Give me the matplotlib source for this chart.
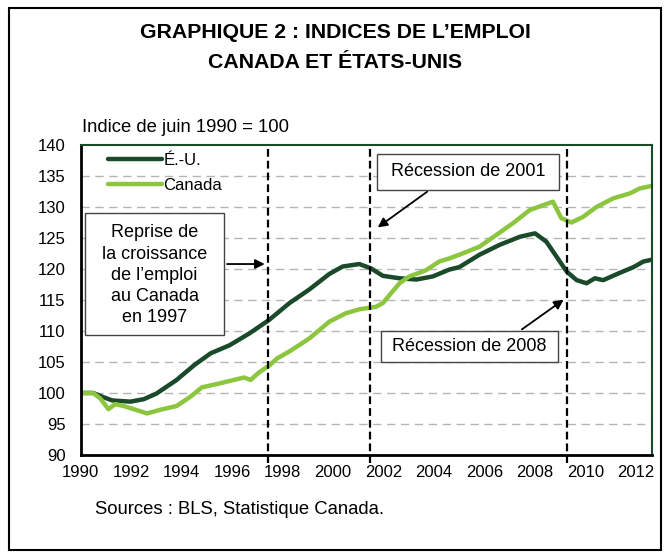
import matplotlib
matplotlib.use("Agg")
import matplotlib.pyplot as plt
from matplotlib.patches import Rectangle

plt.rcParams['font.family'] = ['Liberation Sans', 'DejaVu Sans']

# indices (juin 1990 = 100)
us_years = [1990.0, 1990.5, 1990.85, 1991.25, 1991.97, 1992.5, 1993.0, 1993.8,
            1994.5, 1995.15, 1995.9, 1996.68, 1997.47, 1998.27, 1999.06, 1999.85,
            2000.38, 2001.04, 2001.5, 2001.97, 2002.63, 2003.3, 2003.95, 2004.6,
            2005.0, 2005.8, 2006.6, 2007.4, 2008.0, 2008.45, 2008.85, 2009.25,
            2009.65, 2010.04, 2010.37, 2010.7, 2011.37, 2011.9, 2012.29, 2012.62]
us_values = [100.0, 100.0, 99.4, 98.8, 98.6, 99.0, 99.9, 102.1,
             104.5, 106.4, 107.7, 109.6, 111.8, 114.5, 116.7, 119.2,
             120.4, 120.8, 120.1, 118.9, 118.5, 118.3, 118.8, 119.9,
             120.3, 122.3, 123.9, 125.2, 125.75, 124.4, 122.0, 119.6,
             118.2, 117.7, 118.5, 118.2, 119.4, 120.3, 121.2, 121.5]

ca_years = [1990.0, 1990.5, 1990.78, 1991.1, 1991.37, 1991.7, 1992.17, 1992.63,
            1993.16, 1993.8, 1994.35, 1994.8, 1995.4, 1996.07, 1996.47, 1996.73,
            1997.06, 1997.46, 1997.79, 1998.27, 1999.06, 1999.85, 2000.5, 2001.04,
            2001.7, 2001.97, 2002.63, 2003.02, 2003.68, 2004.2, 2004.6, 2005.0,
            2005.8, 2006.47, 2007.13, 2007.79, 2008.25, 2008.71, 2009.04, 2009.44,
            2009.9, 2010.43, 2011.1, 2011.76, 2012.15, 2012.62]
ca_values = [100.0, 100.0, 99.1, 97.4, 98.2, 97.9, 97.3, 96.7,
             97.3, 97.9, 99.4, 100.9, 101.45, 102.1, 102.5, 102.1,
             103.3, 104.4, 105.6, 106.7, 108.8, 111.5, 112.85, 113.5,
             113.9, 114.5, 117.7, 118.8, 119.8, 121.2, 121.7, 122.3,
             123.6, 125.5, 127.4, 129.5, 130.2, 130.85, 128.2, 127.5,
             128.4, 130.0, 131.4, 132.2, 133.0, 133.4]

recessions = [1997.43, 2001.48, 2009.25]
year_ticks = list(range(1990, 2013, 2))
value_ticks = list(range(90, 141, 5))

us_color = '#1b4a2b'
ca_color = '#8cc63f'

fig = plt.figure(figsize=(6.7, 5.56), dpi=100)
ax = fig.add_axes([0.1204, 0.1817, 0.8526, 0.5575])

ax.plot(us_years, us_values, color=us_color, lw=3.2, label='É.-U.', solid_capstyle='round')
ax.plot(ca_years, ca_values, color=ca_color, lw=3.2, label='Canada', solid_capstyle='round')

for r in recessions:
    ax.axvline(r, ymin=-0.025, ymax=1, color='black', lw=1.6, ls=(0, (3.5, 1.8)), clip_on=False)

ax.set_xlim(1990, 2012.63)
ax.set_ylim(90, 140)
ax.set_xticks(year_ticks)
ax.set_yticks(value_ticks)
ax.tick_params(length=0, labelsize=12)
ax.tick_params(axis='y', pad=11)
ax.tick_params(axis='x', pad=7)
for v in value_ticks[1:-1]:
    ax.axhline(v, color='#b5b5b5', lw=1, ls=(0, (6, 4)), zorder=0)

ax.spines['left'].set_linewidth(2)
ax.spines['bottom'].set_linewidth(2)
ax.spines['top'].set_color(us_color)
ax.spines['right'].set_color(us_color)
ax.spines['top'].set_linewidth(1.5)
ax.spines['right'].set_linewidth(1.5)

ax.legend(loc='upper left', bbox_to_anchor=(0.022, 1.022), frameon=False, fontsize=12,
          handlelength=3.2, handletextpad=0.1, labelspacing=0.6)

# annotation boxes (x0, y0, x1, y1 in data units)
boxes = [(1990.17, 109.35, 1995.69, 129.03),
         (2001.73, 132.74, 2008.95, 138.55),
         (2001.88, 105.0, 2008.91, 110.0)]
for x0, y0, x1, y1 in boxes:
    ax.add_patch(Rectangle((x0, y0), x1 - x0, y1 - y0, fc='white', ec='#444444', lw=1, zorder=4))

ax.text(1992.93, 119.0, "Reprise de\nla croissance\nde l\u2019emploi\nau Canada\nen 1997",
        ha='center', va='center', fontsize=13, linespacing=1.32, zorder=5)
ax.text(2005.34, 135.65, "Récession de 2001", ha='center', va='center', fontsize=13, zorder=5)
ax.text(2005.4, 107.5, "Récession de 2008", ha='center', va='center', fontsize=13, zorder=5)

arrow = dict(arrowstyle='-|>', color='black', lw=1.3, mutation_scale=14)
ax.annotate('', xy=(1997.4, 120.8), xytext=(1995.69, 120.8), arrowprops=arrow)
ax.annotate('', xy=(2001.68, 126.45), xytext=(2003.82, 132.74), arrowprops=arrow)
ax.annotate('', xy=(2009.22, 115.3), xytext=(2007.39, 110.0), arrowprops=arrow)

fig.text(0.5, 1 - 33 / 556, "GRAPHIQUE 2 : INDICES DE L\u2019EMPLOI", ha='center', va='center',
         fontsize=15.3, fontweight='bold')
fig.text(0.5, 1 - 62 / 556, "CANADA ET ÉTATS-UNIS", ha='center', va='center',
         fontsize=15.3, fontweight='bold')
fig.text(82 / 670, 1 - 128 / 556, "Indice de juin 1990 = 100", ha='left', va='center', fontsize=13.3)
fig.text(95 / 670, 1 - 510 / 556, "Sources : BLS, Statistique Canada.", ha='left', va='center', fontsize=13.3)

fig.patches.append(Rectangle((9 / 670, 6 / 556), 652 / 670, 542 / 556, transform=fig.transFigure,
                             fill=False, ec='black', lw=1.5))

fig.savefig('out.png', dpi=100)
